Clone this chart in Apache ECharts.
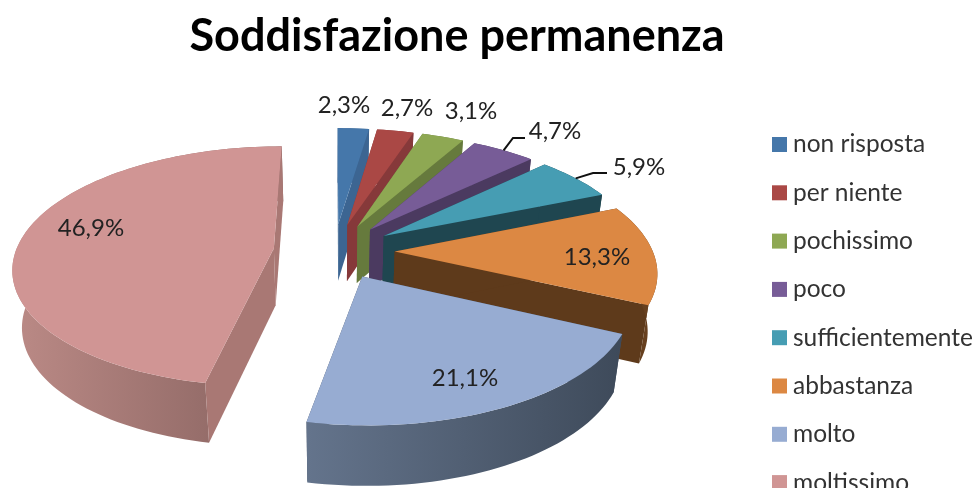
<!DOCTYPE html>
<html>
<head>
<meta charset="utf-8">
<script src="https://cdn.jsdelivr.net/npm/echarts@6/dist/echarts.min.js"></script>
<style>
html, body { margin: 0; background: #fff; }
#chart { width: 976px; height: 488px; }
</style>
</head>
<body>
<div id="chart"></div>
<script>
var categories = ['non risposta', 'per niente', 'pochissimo', 'poco', 'sufficientemente', 'abbastanza', 'molto', 'moltissimo'];
var values = [2.3, 2.7, 3.1, 4.7, 5.9, 13.3, 21.1, 46.9];

var topColors = ['#4577aa', '#aa4845', '#8ea853', '#775c97', '#469db3', '#dc8843', '#97acd2', '#d09594'];
var sideColors = ['#3c6592', '#86393a', '#667a3d', '#4b3a60', '#1f4650', '#5e3a1b', '#465264', '#a97874'];
// rim shading, left to right
var rimColors = [
    ['#3c6592', '#3c6592'], ['#86393a', '#86393a'], ['#667a3d', '#667a3d'], ['#4b3a60', '#4b3a60'],
    ['#1f4650', '#1f4650'], ['#5e3a1b', '#6a4220'], ['#64748c', '#3e4a5a'], ['#bb8a86', '#87625f']
];
// label centres in page pixels, and which labels get a leader line
var labelAt = [[344, 105], [407, 108], [471, 111], [555, 131], [639, 167], [597, 257], [465, 378], [91, 228]];
var leaderElbow = [null, null, null, [513, 138], [593, 173], null, null, null];
var leaderEnd = [null, null, null, [525, 138], [607, 173], null, null, null];

// tilted pie projection
var cx = 334, cy = 251, rx = 258, ry = 118, persp = 0.15, explode = 0.235, depth = 57;

function project(x, y) {
    var w = 1 + persp * y;
    return [cx + rx * x / w, cy - ry * y / w];
}
// bottom edge of the pie sits a bit further from the camera
function down(p) {
    return [cx + (p[0] - cx) * 0.97, p[1] + depth + (p[1] - cy) * 0.02];
}

var total = values.reduce(function (a, b) { return a + b; }, 0);
var cumulative = [];
values.reduce(function (sum, v, i) { cumulative[i] = sum; return sum + v; }, 0);

function angleOf(pct) {
    return pct / total * Math.PI * 2;
}

function buildSlice(i) {
    var start = angleOf(cumulative[i]);
    var end = angleOf(cumulative[i] + values[i]);
    var mid = (start + end) / 2;
    var ox = explode * Math.sin(mid), oy = explode * Math.cos(mid);
    var apex = project(ox, oy);
    var rim = [];
    var steps = Math.max(4, Math.ceil((end - start) / 0.03));
    for (var s = 0; s <= steps; s++) {
        var a = start + (end - start) * s / steps;
        rim.push(project(ox + Math.sin(a), oy + Math.cos(a)));
    }
    var first = rim[0], last = rim[rim.length - 1];
    var children = [];
    var rimBottom = rim.map(down).reverse();

    var rimWall = {
        type: 'polygon',
        shape: { points: rim.concat(rimBottom) },
        style: {
            fill: new echarts.graphic.LinearGradient(0, 0, 1, 0, [
                { offset: 0, color: rimColors[i][0] },
                { offset: 1, color: rimColors[i][1] }
            ])
        }
    };
    var wallA = { type: 'polygon', shape: { points: [first, apex, down(apex), down(first)] }, style: { fill: sideColors[i] } };
    var wallB = { type: 'polygon', shape: { points: [last, apex, down(apex), down(last)] }, style: { fill: sideColors[i] } };

    if (Math.cos(mid) > 0) {
        children.push(rimWall, wallB, wallA);
    } else {
        children.push(wallB, wallA, rimWall);
    }
    children.push({
        type: 'polygon',
        shape: { points: [apex].concat(rim) },
        style: { fill: topColors[i] }
    });

    if (leaderElbow[i]) {
        var from = project(ox + Math.sin(mid), oy + Math.cos(mid));
        children.push({
            type: 'polyline',
            shape: { points: [from, leaderElbow[i], leaderEnd[i]] },
            style: { stroke: '#111', lineWidth: 2, fill: null }
        });
    }
    children.push({
        type: 'text',
        style: {
            x: labelAt[i][0],
            y: labelAt[i][1],
            text: values[i].toFixed(1).replace('.', ',') + '%',
            fill: '#222',
            font: '24px Lato',
            align: 'center',
            verticalAlign: 'middle'
        }
    });
    return { type: 'group', children: children };
}

// paint far slices first
var paintOrder = values.map(function (v, i) {
    var mid = angleOf(cumulative[i] + v / 2);
    return { i: i, y: Math.cos(mid) };
}).sort(function (a, b) { return b.y - a.y; });
var zOf = [];
paintOrder.forEach(function (o, rank) { zOf[o.i] = rank + 2; });

var myChart = echarts.init(document.getElementById('chart'), null, { renderer: 'canvas' });
var option = {
    animation: false,
    backgroundColor: '#fff',
    title: {
        text: 'Soddisfazione permanenza',
        left: 452,
        top: 9,
        textAlign: 'center',
        textStyle: { fontFamily: 'Lato', fontWeight: 'bold', fontSize: 45, color: '#000' }
    },
    legend: {
        orient: 'vertical',
        left: 772,
        top: 132,
        height: 400,
        padding: 0,
        icon: 'rect',
        itemWidth: 15,
        itemHeight: 15,
        itemGap: 23.3,
        data: categories,
        textStyle: { fontFamily: 'Lato', fontSize: 24.5, color: '#333', padding: [0, 0, 0, 1], lineHeight: 22, height: 22 }
    },
    series: categories.map(function (name, i) {
        return {
            type: 'custom',
            name: name,
            coordinateSystem: 'none',
            z: zOf[i],
            silent: true,
            itemStyle: { color: topColors[i] },
            data: [values[i]],
            renderItem: function () {
                return buildSlice(i);
            }
        };
    })
};
myChart.setOption(option);
</script>
</body>
</html>
